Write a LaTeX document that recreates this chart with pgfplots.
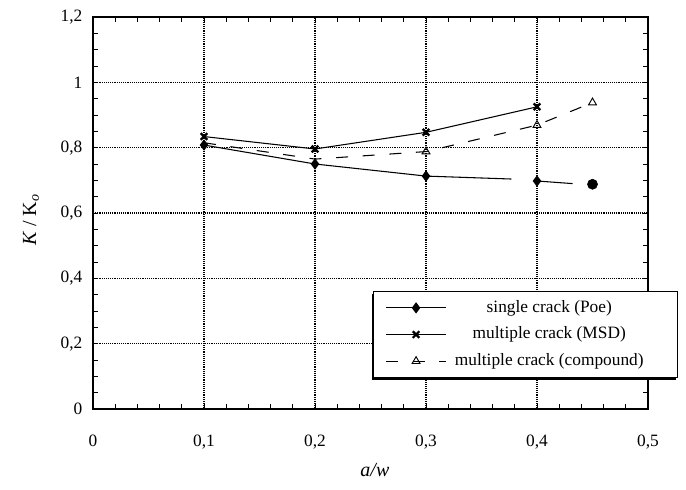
\documentclass[border=0pt]{standalone}
\usepackage{pgfplots}
\pgfplotsset{compat=1.18}
\usepackage{fontspec}
\setmainfont{Liberation Serif}
\usetikzlibrary{shadows}
\makeatletter
\tikzset{clear preactions/.code={\let\tikz@preactions\pgfutil@empty}}
\makeatother

\begin{document}
\begin{tikzpicture}
\begin{axis}[
  scale only axis,
  width=416.25pt, height=294pt,
  xmin=0, xmax=0.5, ymin=0, ymax=1.2,
  xtick={0,0.1,0.2,0.3,0.4,0.5},
  ytick={0,0.2,0.4,0.6,0.8,1,1.2},
  minor x tick num=4, minor y tick num=3,
  tick align=inside,
  major tick length=4pt, minor tick length=4pt,
  every tick/.style={black, line width=0.6pt},
  axis line style={line width=0.8pt},
  xmajorgrids, ymajorgrids,
  major grid style={densely dotted, line width=0.9pt, black},
  /pgf/number format/assume math mode=true,
  /pgf/number format/use comma,
  /pgf/number format/1000 sep={},
  ticklabel style={font=\fontsize{13}{15.6}\selectfont},
  yticklabel style={xshift=-4.5pt},
  xticklabel style={yshift=-16pt},
  xlabel={\textit{a/w}},
  ylabel={\textit{K} / K\textsubscript{\textit{o}}},
  every axis x label/.style={at={(axis description cs:0.508,-0.156)}, anchor=center, font=\fontsize{15}{18}\selectfont},
  every axis y label/.style={at={(axis description cs:-0.1117,0.482)}, anchor=center, rotate=90, font=\fontsize{15}{18}\selectfont},
  legend style={
    at={(axis description cs:0.5045,0.301)}, anchor=north west,
    draw=black, line width=0.8pt, fill=white,
    inner xsep=9pt, inner ysep=3.5pt,
    font=\fontsize{13}{15.6}\selectfont,
    nodes={inner sep=2pt, text height=10pt, text depth=3.5pt},
    row sep=2.5pt,
    drop shadow={shadow xshift=-0.8pt, shadow yshift=-1.8pt, opacity=1, fill=black},
  },
  legend cell align=left,
  legend image code/.code={\draw[clear preactions, mark indices={2}] plot coordinates {(0pt,0pt) (22.5pt,0pt) (45pt,0pt)};},
]
% single crack (Poe)
\addplot[black, line width=0.8pt, mark=diamond*, mark size=3.6pt, mark options={solid, fill=black}, mark indices={1,2,3}]
  coordinates {(0.1,0.808) (0.2,0.750) (0.3,0.713) (0.377,0.704)};
\addlegendentry{\makebox[160pt][l]{\hspace*{7pt}\makebox[136pt][c]{single crack (Poe)}}}
% multiple crack (MSD)
\addplot[black, line width=0.8pt, mark=x, mark size=3.5pt, mark options={solid, line width=1.7pt}]
  coordinates {(0.1,0.834) (0.2,0.796) (0.3,0.847) (0.4,0.925)};
\addlegendentry{\makebox[160pt][l]{\hspace*{7pt}\makebox[136pt][c]{multiple crack (MSD)}}}
% multiple crack (compound)
\addplot[black, line width=0.8pt, dash pattern=on 9pt off 11pt, mark=triangle, mark size=3.4pt, mark options={solid, fill=white, line width=0.7pt}, mark indices={3,4,5}]
  coordinates {(0.1,0.815) (0.2,0.765) (0.3,0.788) (0.4,0.869) (0.45,0.938)};
\addlegendentry{\makebox[160pt][l]{\hspace*{7pt}\makebox[136pt][c]{multiple crack (compound)}}}
% Poe tail segments
\addplot[black, line width=0.8pt, mark=diamond*, mark size=3.6pt, mark options={solid, fill=black}, mark indices={1}, forget plot]
  coordinates {(0.4,0.698) (0.432,0.690)};
\addplot[black, only marks, mark=*, mark size=3.8pt, forget plot]
  coordinates {(0.45,0.688)};
\end{axis}
\coordinate (bbA) at ([xshift=-69.75pt,yshift=-60pt]current axis.south west);
\coordinate (bbB) at ([xshift=28.5pt,yshift=12.75pt]current axis.north east);
\pgfresetboundingbox
\useasboundingbox (bbA) rectangle (bbB);
\end{tikzpicture}
\end{document}
